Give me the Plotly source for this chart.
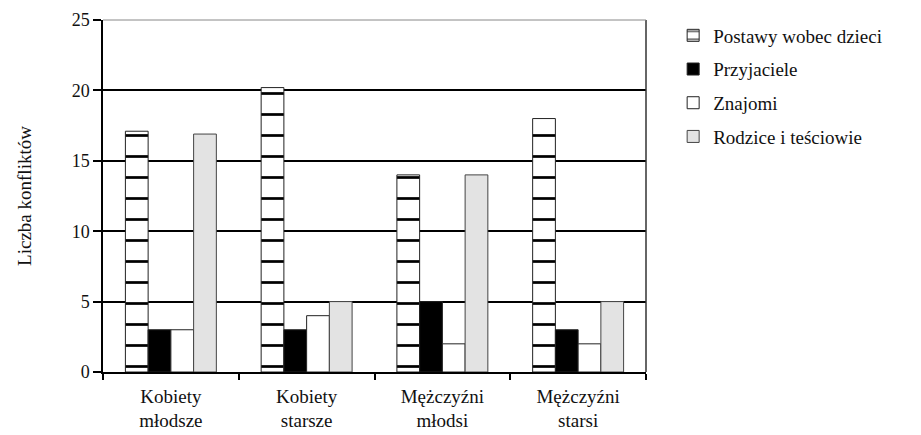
import plotly.graph_objects as go

categories = ["Kobiety<br>młodsze", "Kobiety<br>starsze", "Mężczyźni<br>młodsi", "Mężczyźni<br>starsi"]
postawy = [17.1, 20.2, 14, 18]
przyjaciele = [3, 3, 5, 3]
znajomi = [3, 4, 2, 2]
rodzice = [16.9, 5, 14, 5]
series_names = ["Postawy wobec dzieci", "Przyjaciele", "Znajomi", "Rodzice i teściowie"]

FONT = "Liberation Serif, Times New Roman, serif"

fig = go.Figure()
fig.add_trace(go.Bar(
    x=categories, y=postawy, name=series_names[0], legendgroup="a",
    marker=dict(color="white", line=dict(color="#222", width=1),
                pattern=dict(shape="-", fgcolor="black", bgcolor="white", size=21,
                             solidity=0.13, fillmode="replace", fgopacity=1)),
))
fig.add_trace(go.Bar(
    x=categories, y=przyjaciele, name=series_names[1], legendgroup="b",
    marker=dict(color="black", line=dict(color="#222", width=1)),
))
fig.add_trace(go.Bar(
    x=categories, y=znajomi, name=series_names[2], legendgroup="c",
    marker=dict(color="white", line=dict(color="#222", width=1)),
))
fig.add_trace(go.Bar(
    x=categories, y=rodzice, name=series_names[3], legendgroup="d",
    marker=dict(color="#e3e3e3", line=dict(color="#444", width=1)),
))

fig.update_layout(
    width=913, height=427,
    margin=dict(l=95, r=275, t=12, b=63, autoexpand=False),
    paper_bgcolor="white", plot_bgcolor="white",
    barmode="group", bargap=0.33, bargroupgap=0,
    font=dict(family=FONT, size=18, color="#111"),
    legend=dict(x=1.05, y=1.01, xanchor="left", yanchor="top",
                font=dict(family=FONT, size=19, color="#111"),
                traceorder="grouped", tracegroupgap=6, itemwidth=30),
    showlegend=True,
)
fig.update_xaxes(
    type="category", tickson="boundaries", ticks="outside", ticklen=6,
    tickcolor="black", tickwidth=1.5, automargin=False, ticklabelstandoff=6,
    showline=True, linecolor="black", linewidth=1.5, mirror=False,
    showgrid=False, tickfont=dict(family=FONT, size=19),
)
fig.update_yaxes(
    range=[0, 25], dtick=5, ticks="outside", ticklen=8, tickcolor="black", tickwidth=1.5,
    showline=True, linecolor="black", linewidth=1.5, automargin=False,
    showgrid=True, gridcolor="black", gridwidth=1.5, zeroline=False,
    tickfont=dict(family=FONT, size=18),
    title=dict(text="Liczba konfliktów", font=dict(family=FONT, size=19), standoff=35),
)
# right and top frame
fig.add_shape(type="line", xref="paper", yref="paper", x0=1, x1=1, y0=0, y1=1,
              line=dict(color="#333", width=1.5))
fig.add_shape(type="line", xref="paper", yref="paper", x0=0, x1=1, y0=1, y1=1,
              line=dict(color="#888", width=1))

fig.write_html("out.html")
